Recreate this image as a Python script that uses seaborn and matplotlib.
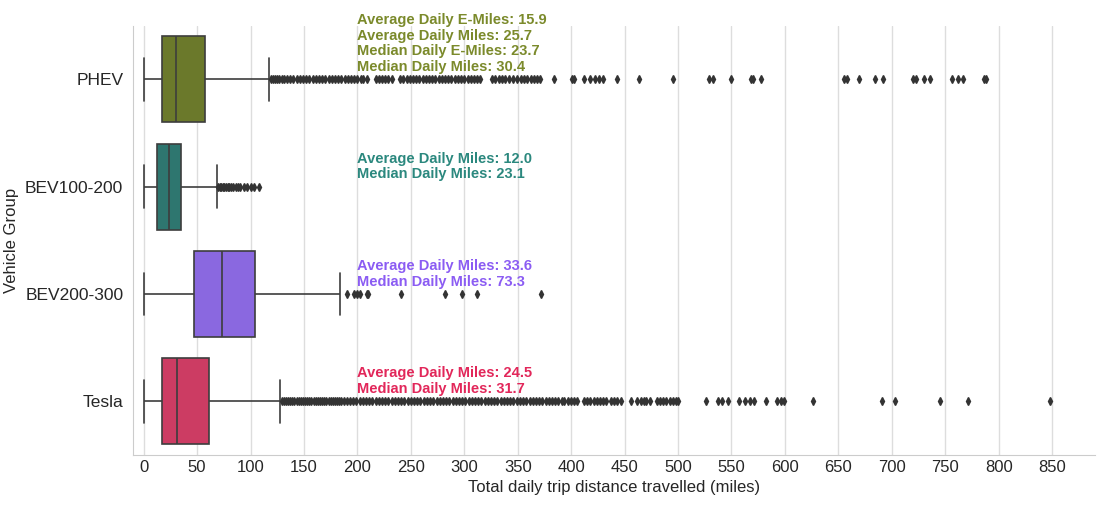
import numpy as np
import pandas as pd
import seaborn as sns
from matplotlib import pyplot as plt

# vehicle groups and box statistics (miles)
groups = ["PHEV", "BEV100-200", "BEV200-300", "Tesla"]
whisker_lo = [0.0, 0.0, 0.0, 0.0]
q1 = [16.8, 12.8, 47.0, 16.8]
median = [30.5, 23.4, 73.0, 31.6]
q3 = [57.4, 35.2, 103.8, 61.5]
whisker_hi = [117.5, 68.3, 183.3, 128.0]

# outliers (estimated positions, dense bands listed at ~3 mile spacing)
phev_outliers = [119, 121, 123, 125, 127, 129, 131, 134, 137, 140, 143, 146, 149, 152, 155, 158, 161, 164,
                 167, 170, 173, 176, 179, 182, 185, 188, 191, 194, 197, 200, 203, 205, 209, 217, 220, 223,
                 226, 229, 232, 240, 243, 246, 249, 252, 255, 258, 261, 264, 267, 270, 273, 276, 279, 282,
                 285, 288, 291, 294, 297, 300, 303, 306, 309, 312, 315, 326, 329, 332, 335, 338, 342, 346,
                 349, 353, 356, 359, 362, 365, 368, 371, 384, 401, 403, 412, 418, 422, 426, 430, 443, 463,
                 495, 529, 533, 550, 568, 570, 578, 655, 658, 669, 684, 692, 720, 723, 730, 736, 756, 762,
                 767, 786, 788]
bev100_outliers = [69.5, 71, 72.5, 74, 75.5, 77, 78.5, 80, 82, 84, 86, 88, 90, 94, 97, 100, 103, 108]
bev200_outliers = [190.5, 197, 200, 202, 208.5, 209.5, 241, 281.5, 297.5, 311.5, 372]
tesla_outliers = [129.5, 131, 133, 135, 137, 139, 141, 143, 145, 147, 149, 151, 153, 155, 157, 159, 161, 163,
                  165, 167, 169, 171, 173, 175, 177, 179, 181, 183, 185, 187, 190, 193, 196, 199, 202, 205,
                  208, 211, 214, 217, 220, 223, 226, 229, 232, 235, 238, 241, 244, 247, 250, 253, 256, 259,
                  262, 265, 268, 271, 274, 277, 280, 283, 286, 289, 292, 295, 298, 301, 304, 307, 310, 313,
                  316, 319, 322, 325, 328, 331, 334, 337, 340, 343, 346, 349, 352, 355, 358, 361, 364, 367,
                  370, 373, 376, 379, 382, 385, 388, 391, 393, 397, 400, 403, 405, 412, 415, 418, 421, 424,
                  427, 430, 433, 437, 440, 443, 447, 456, 462, 465, 468, 470, 474, 480, 483, 486, 489, 492,
                  495, 498, 500, 526, 537, 541, 547, 557, 563, 567, 571, 582, 593, 596, 599, 626, 691, 703,
                  745, 771, 848]

annotations = [
    ["Average Daily E-Miles: 15.9", "Average Daily Miles: 25.7", "Median Daily E-Miles: 23.7",
     "Median Daily Miles: 30.4"],
    ["Average Daily Miles: 12.0", "Median Daily Miles: 23.1"],
    ["Average Daily Miles: 33.6", "Median Daily Miles: 73.3"],
    ["Average Daily Miles: 24.5", "Median Daily Miles: 31.7"],
]

box_colors = ["#6b792b", "#2e766f", "#8a68e0", "#cc3c63"]
text_colors = ["#7b8a2b", "#2b887e", "#8b5cf3", "#e2275a"]

# build a long table whose quartiles/whiskers reproduce the stats above
outliers = [phev_outliers, bev100_outliers, bev200_outliers, tesla_outliers]
rows = []
for i, g in enumerate(groups):
    core = np.repeat([whisker_lo[i], q1[i], median[i], q3[i], whisker_hi[i]], 1000)
    vals = np.concatenate([core, outliers[i]])
    rows.append(pd.DataFrame({"Vehicle Group": g, "miles": vals}))
data = pd.concat(rows, ignore_index=True)

sns.set_style("whitegrid")
plt.rcParams["font.family"] = ["Liberation Sans", "DejaVu Sans"]

fig = plt.figure(figsize=(11.12, 5.05), dpi=100)
ax = fig.add_axes([0.1196, 0.099, 0.865, 0.85])

sns.boxplot(data=data, x="miles", y="Vehicle Group", order=groups, hue="Vehicle Group", hue_order=groups,
            palette=box_colors, saturation=1, width=0.8, linewidth=1.2, linecolor="#3d3d3d",
            fliersize=3.8,
            flierprops=dict(marker="d", markerfacecolor="#333333", markeredgecolor="#333333"),
            legend=False, ax=ax)

for i, lines in enumerate(annotations):
    ax.text(200, i - 0.05, "\n".join(lines), color=text_colors[i], fontsize=10.5, fontweight="bold",
            va="bottom", ha="left", linespacing=1.15)

ax.set_xlim(-10, 890)
ax.set_xticks(range(0, 851, 50))
ax.grid(axis="y", visible=False)
ax.grid(axis="x", color="#dddddd", linewidth=1)
ax.tick_params(axis="x", labelsize=12, length=0)
ax.tick_params(axis="y", labelsize=12.5, length=0, pad=7)
ax.set_xlabel("Total daily trip distance travelled (miles)", fontsize=12)
ax.set_ylabel("Vehicle Group", fontsize=12)
sns.despine(ax=ax)

plt.savefig("out.png", dpi=100)
